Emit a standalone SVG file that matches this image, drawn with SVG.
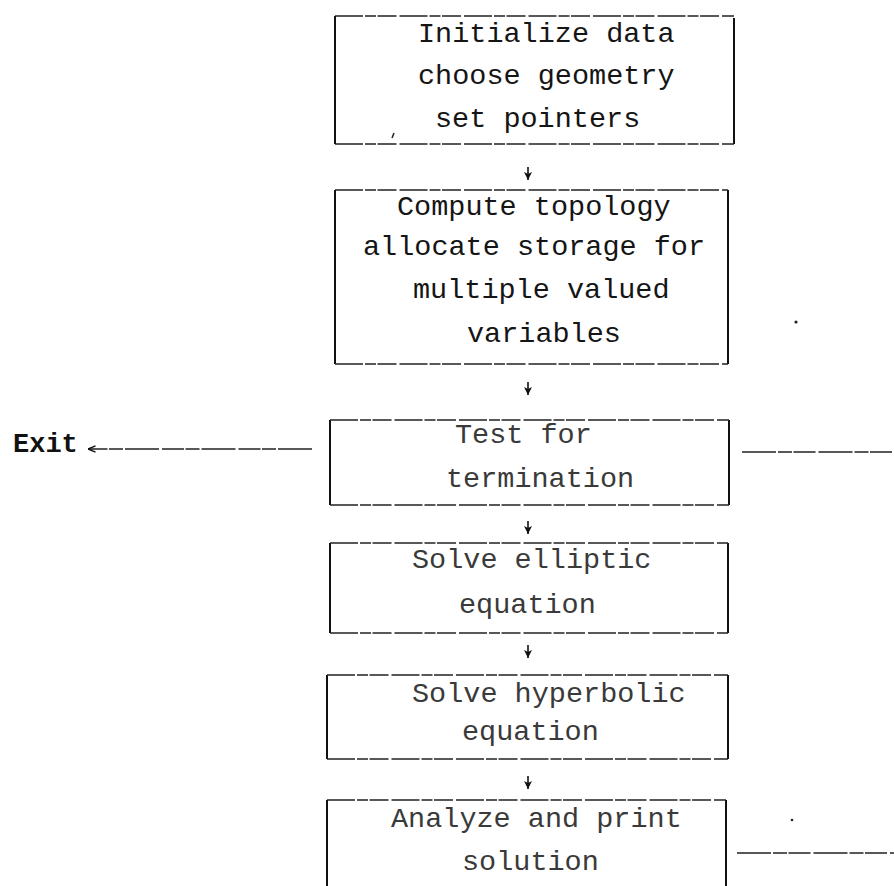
<svg xmlns="http://www.w3.org/2000/svg" width="894" height="886" viewBox="0 0 894 886">
  <defs>
    <!-- small typewriter-style arrowheads; drawn pointing along +x, rotated by orient -->
    <marker id="down" viewBox="0 0 8 8" refX="8" refY="4" markerWidth="8" markerHeight="8" markerUnits="userSpaceOnUse" orient="auto">
      <path d="M0,0 L8,4 L0,8 L2,4 Z" fill="#111"/>
    </marker>
    <marker id="left" viewBox="0 0 9 8" refX="8.5" refY="4" markerWidth="9" markerHeight="8" markerUnits="userSpaceOnUse" orient="auto">
      <path d="M1,0.8 L8.5,4 L1,7.2" fill="none" stroke="#111" stroke-width="1.4"/>
    </marker>
    <style>
      .side { stroke: #111; stroke-width: 2; fill: none; }
      .edge { stroke: #222; stroke-width: 1.6; fill: none; stroke-dasharray: 28 2 11 1.5 19 3; }
      .lbl { font-family: "Liberation Mono", "Courier New", monospace; font-size: 28.5px; fill: #151515; }
      .lbl-light { font-family: "Liberation Mono", "Courier New", monospace; font-size: 28.5px; fill: #3a3a3a; }
      .exit { font-family: "Liberation Mono", "Courier New", monospace; font-size: 27px; font-weight: bold; fill: #111; }
      .flow { stroke: #111; stroke-width: 1.6; fill: none; }
      .link { stroke: #222; stroke-width: 1.4; fill: none; stroke-dasharray: 34 2 14 1.5 22 3; }
      .speck { fill: #222; }
    </style>
  </defs>

  <!-- Initialization step -->
  <g id="init">
    <path class="side" d="M335,16 V144 M734,18 V144"/>
    <path class="edge" d="M335,16 H734 M335,144 H734"/>
    <text class="lbl" x="418" y="42">Initialize data</text>
    <text class="lbl" x="418" y="84">choose geometry</text>
    <text class="lbl" x="435" y="127">set pointers</text>
    <path d="M392,138 L394,133" stroke="#222" stroke-width="1.5"/>
  </g>

  <!-- Topology and storage allocation -->
  <g id="topology">
    <path class="side" d="M335,190 V364 M728,190 V364"/>
    <path class="edge" d="M335,190 H728 M335,364 H728"/>
    <text class="lbl" x="397" y="215">Compute topology</text>
    <text class="lbl" x="363" y="255">allocate storage for</text>
    <text class="lbl" x="413" y="298">multiple valued</text>
    <text class="lbl" x="467" y="342">variables</text>
  </g>

  <!-- Termination test -->
  <g id="termination">
    <path class="side" d="M330,420 V505 M729,420 V505"/>
    <path class="edge" d="M330,420 H729 M330,505 H729"/>
    <text class="lbl-light" x="455" y="443">Test for</text>
    <text class="lbl-light" x="446" y="487">termination</text>
  </g>

  <!-- Elliptic solve -->
  <g id="elliptic">
    <path class="side" d="M330,543 V633 M728,543 V633"/>
    <path class="edge" d="M330,543 H728 M330,633 H728"/>
    <text class="lbl-light" x="412" y="568">Solve elliptic</text>
    <text class="lbl-light" x="459" y="613">equation</text>
  </g>

  <!-- Hyperbolic solve -->
  <g id="hyperbolic">
    <path class="side" d="M327,675 V759 M728,675 V759"/>
    <path class="edge" d="M327,675 H728 M327,759 H728"/>
    <text class="lbl-light" x="412" y="702">Solve hyperbolic</text>
    <text class="lbl-light" x="462" y="740">equation</text>
  </g>

  <!-- Output step -->
  <g id="output">
    <path class="side" d="M327,800 V886 M726,800 V886"/>
    <path class="edge" d="M327,800 H726"/>
    <text class="lbl-light" x="391" y="827">Analyze and print</text>
    <text class="lbl-light" x="462" y="870">solution</text>
  </g>

  <!-- Exit label -->
  <g id="exit">
    <text class="exit" x="13" y="452">Exit</text>
  </g>

  <!-- Connectors -->
  <g id="connectors">
    <path class="flow" d="M528,167 V180" marker-end="url(#down)"/>
    <path class="flow" d="M528,382 V395" marker-end="url(#down)"/>
    <path class="flow" d="M528,521 V534" marker-end="url(#down)"/>
    <path class="flow" d="M528,645 V658" marker-end="url(#down)"/>
    <path class="flow" d="M528,776 V789" marker-end="url(#down)"/>
    <path class="link" d="M312,449 H88" marker-end="url(#left)"/>
    <path class="link" d="M742,452 H894"/>
    <path class="link" d="M737,853 H894"/>
  </g>

  <!-- stray marks -->
  <circle class="speck" cx="796" cy="322" r="1.6"/>
  <circle class="speck" cx="792" cy="820" r="1.3"/>
</svg>
